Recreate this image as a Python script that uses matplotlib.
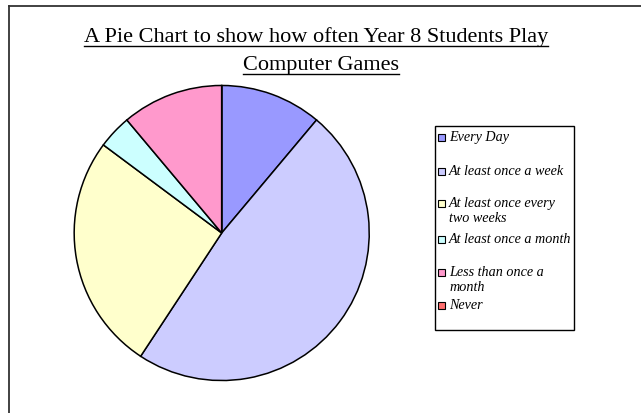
import matplotlib.pyplot as plt
from matplotlib.lines import Line2D
from matplotlib.patches import Rectangle

# Survey answers (number of students)
labels = ["Every Day", "At least once a week", "At least once every\ntwo weeks",
          "At least once a month", "Less than once a\nmonth", "Never"]
counts = [3, 13, 7, 1, 3, 0]
colors = ["#9999FF", "#CCCCFF", "#FFFFCC", "#CCFFFF", "#FF99CC", "#FF6F6F"]

title_lines = ["A Pie Chart to show how often Year 8 Students Play", "Computer Games"]

W, H = 641, 414
fig = plt.figure(figsize=(W / 100, H / 100), dpi=100)

def fx(px):
    return px / W

def fy(py):
    return 1 - py / H

# outer chart frame (only left and top edges show)
fig.add_artist(Line2D([fx(9), fx(9)], [0, fy(7)], color="#333333", lw=1.3))
fig.add_artist(Line2D([fx(9), 1], [fy(7), fy(7)], color="#333333", lw=1.3))

# pie
cx, cy, r = 221.7, 234, 149
ax = fig.add_axes([fx(cx - r), fy(cy + r), 2 * r / W, 2 * r / H])
ax.pie(counts, colors=colors, startangle=90, counterclock=False, radius=1,
       wedgeprops=dict(edgecolor="black", linewidth=1.1))
ax.set_xlim(-1.01, 1.01)
ax.set_ylim(-1.01, 1.01)
ax.set_aspect("auto")
ax.axis("off")

# title, underlined line by line
title_texts = []
for line, xc, yb in zip(title_lines, [316, 321], [42, 70]):
    t = fig.text(fx(xc), fy(yb), line, ha="center", va="baseline",
                 fontsize=16, family="Liberation Serif")
    title_texts.append(t)

# legend
fig.add_artist(Rectangle((fx(435), fy(331)), fx(574) - fx(435), fy(127) - fy(331),
                         transform=fig.transFigure, fill=False, edgecolor="black", lw=1.0))
legend_y = [138, 172, 204, 240, 273, 306]
for lab, col, y in zip(labels, colors, legend_y):
    fig.add_artist(Rectangle((fx(437.5), fy(y + 3.5)), 7 / W, 7 / H,
                             transform=fig.transFigure, facecolor=col,
                             edgecolor="black", lw=0.8))
    fig.text(fx(449), fy(y - 6.5), lab, ha="left", va="top", fontsize=10.2,
             style="italic", family="Liberation Serif", linespacing=1.2)

fig.canvas.draw()
renderer = fig.canvas.get_renderer()
for t in title_texts:
    bb = t.get_window_extent(renderer)
    y0 = bb.y0 / H + 0.3 / H
    fig.add_artist(Line2D([bb.x0 / W, bb.x1 / W], [y0, y0], color="black", lw=1.0))

fig.savefig("out.png", dpi=100)
